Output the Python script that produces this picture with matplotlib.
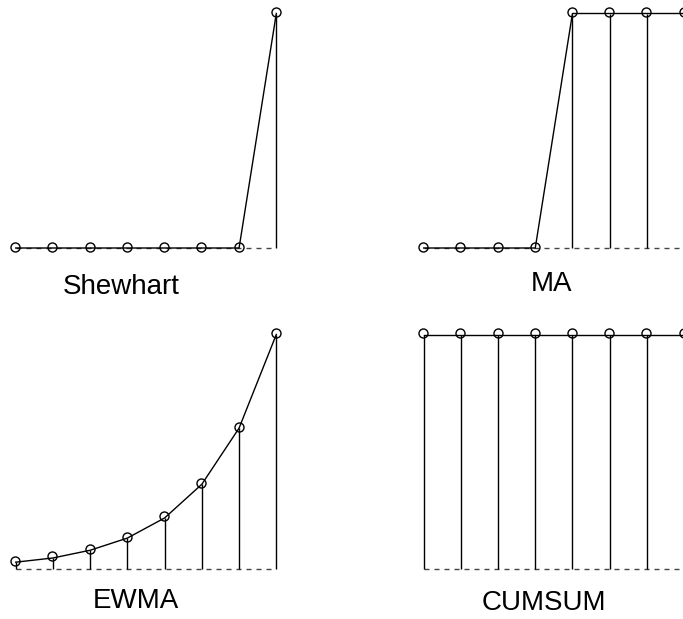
import numpy as np
import matplotlib
matplotlib.use('Agg')
import matplotlib.pyplot as plt
import matplotlib.transforms as mtransforms

plt.rcParams['font.family'] = ['Liberation Sans', 'DejaVu Sans']

# Data: 8 samples, a step shift at the end, seen by four different charts
samples = np.arange(8)
shewhart = [0, 0, 0, 0, 0, 0, 0, 1.0]
ma = [0, 0, 0, 0, 1.0, 1.0, 1.0, 1.0]
ewma = [0.027, 0.045, 0.078, 0.13, 0.216, 0.36, 0.60, 1.0]
cumsum = [1.0, 1.0, 1.0, 1.0, 1.0, 1.0, 1.0, 1.0]
titles = ['Shewhart', 'MA', 'EWMA', 'CUMSUM']

W, H = 683, 619
fig = plt.figure(figsize=(W / 100, H / 100), dpi=100)


def px_axes(x0, x1, y_top, y_base):
    # axes placed by pixel positions of x=0, x=7, value 1 and value 0
    return fig.add_axes([x0 / W, 1 - y_base / H, (x1 - x0) / W, (y_base - y_top) / H])


panels = [
    (shewhart, 'Shewhart', (15.7, 276.3, 13.5, 248), (121, 294)),
    (ma, 'MA', (423.7, 684.0, 13.5, 248), (551.5, 291)),
    (ewma, 'EWMA', (15.7, 276.3, 334.5, 568.5), (135.5, 608)),
    (cumsum, 'CUMSUM', (423.7, 684.0, 334.5, 568.5), (543.5, 610)),
]

for values, name, pos, label_pos in panels:
    ax = px_axes(*pos)
    ax.set_xlim(0, 7)
    ax.set_ylim(0, 1)
    ax.axis('off')

    # dashed base line
    ax.plot([0, 7], [0, 0], color='#444444', lw=1.0, ls=(0, (3.6, 3.6)), clip_on=False)
    # stems
    ax.vlines(samples, 0, values, color='black', lw=1.0, clip_on=False)
    # connecting line
    ax.plot(samples, values, color='black', lw=1.0, clip_on=False)
    # circles, drawn a touch above the line as in the original
    shifted = mtransforms.offset_copy(ax.transData, fig=fig, x=-0.5, y=1.5, units='dots')
    ax.plot(samples, values, ls='none', marker='o', ms=6.5, mfc='none', mec='black',
            mew=1.0, transform=shifted, clip_on=False)

    fig.text(label_pos[0] / W, 1 - label_pos[1] / H, name, ha='center', va='baseline',
             fontsize=20)

plt.savefig('out.png', dpi=100)
